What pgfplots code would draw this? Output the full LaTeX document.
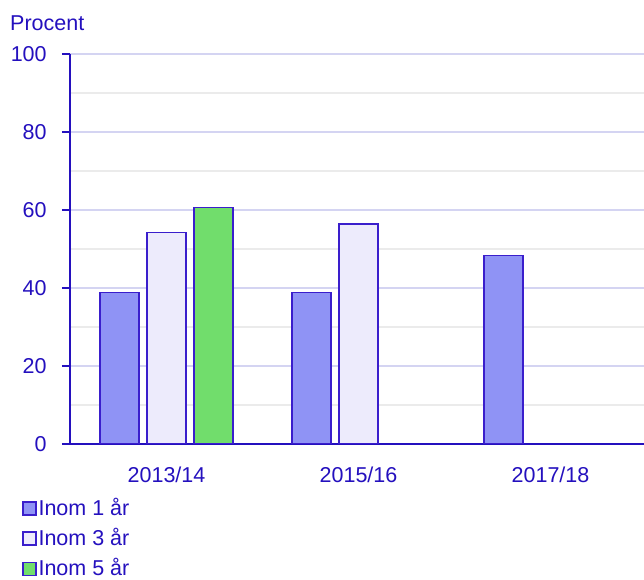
\documentclass[border=0pt]{standalone}
\usepackage{fontspec}
\setmainfont{Liberation Sans}
\usepackage{pgfplots}
\pgfplotsset{compat=1.18}
\definecolor{txt}{HTML}{2410BE}
\definecolor{edge}{HTML}{3A1ECC}
\definecolor{c1}{HTML}{8F93F5}
\definecolor{c3}{HTML}{EDEBFC}
\definecolor{c5}{HTML}{71DD6C}
\definecolor{gmaj}{HTML}{D4D4F2}
\definecolor{gmin}{HTML}{EBEBEB}
\begin{document}
\fontsize{21.5bp}{25bp}\selectfont
\begin{tikzpicture}
\useasboundingbox (0,0) rectangle (644bp,580bp);
\begin{axis}[
 at={(70bp,136bp)}, anchor=south west,
 scale only axis, width=574bp, height=390bp,
 xmin=-0.5026, xmax=2.487, ymin=0, ymax=100,
 axis x line*=bottom, axis y line*=left,
 axis line style={txt, line width=1.5bp},
 xtick={0,1,2}, xticklabels={2013/14,2015/16,2017/18},
 ytick={0,20,...,100}, minor ytick={10,30,...,90},
 tick style={txt, line width=1.5bp},
 tick align=outside, major tick length=8bp, minor tick length=0pt,
 xtick style={draw=none},
 ymajorgrids, yminorgrids,
 major grid style={gmaj, line width=1.5bp},
 minor grid style={gmin, line width=1.5bp},
 tick label style={font=\fontsize{21.5bp}{25bp}\selectfont, text=txt},
 xticklabel style={yshift=-8bp},
 yticklabel style={xshift=-8bp},
 /pgf/number format/assume math mode=true,
 ybar, bar width=39bp,
 every axis plot post/.append style={draw=edge, line width=1.3bp,
   legend image code/.code={\draw[##1, line width=1.2bp] (0bp,-6.5bp) rectangle (13bp,6.5bp);}},
 legend style={at={(axis description cs:-0.083,-0.134)}, anchor=north west,
   draw=none, fill=none, font=\fontsize{21.5bp}{25bp}\selectfont, text=txt,
   row sep=5.5bp, inner sep=0pt, outer sep=0pt},
 legend cell align=left,
]
\addplot[fill=c1, bar shift=-47bp] coordinates {(0,38.9) (1,38.8) (2,48.4)};
\addplot[fill=c3, bar shift=0bp] coordinates {(0,54.2) (1,56.4)};
\addplot[fill=c5, bar shift=47bp] coordinates {(0,60.7)};
\legend{Inom 1 år, Inom 3 år, Inom 5 år}
\end{axis}
\node[anchor=base west, text=txt, inner sep=0pt] at (10bp,549bp) {Procent};
\end{tikzpicture}
\end{document}
